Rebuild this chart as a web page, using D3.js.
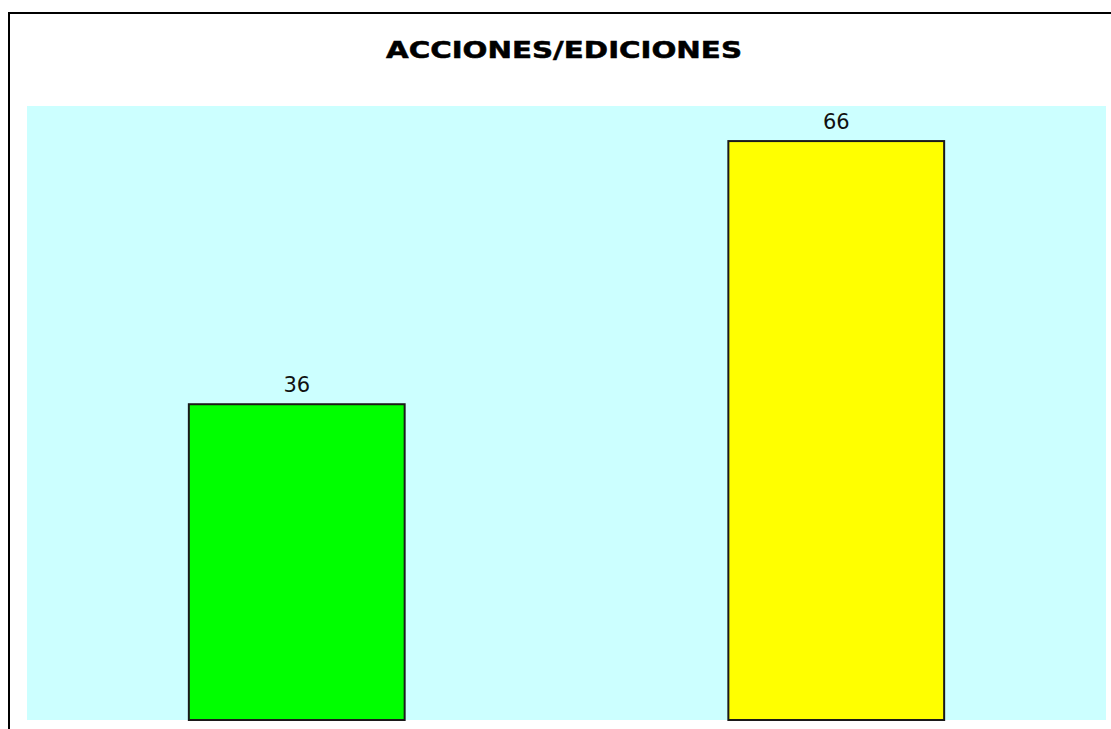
<!DOCTYPE html>
<html>
<head>
<meta charset="utf-8">
<script src="https://cdn.jsdelivr.net/npm/d3@7"></script>
<style>
html,body{margin:0;padding:0;background:#fff;}
svg{display:block;}
</style>
</head>
<body>
<svg id="chart" width="1111" height="729"></svg>
<script>
const title = "ACCIONES/EDICIONES";
const categories = ["Acciones", "Ediciones"];
const values = [36, 66];
const barColors = ["#00ff00", "#ffff00"];
const yMax = 70;

const svg = d3.select("#chart");
const plot = {left: 27, top: 106, right: 1106, bottom: 720};

// outer frame
svg.append("rect")
  .attr("x", 9).attr("y", 13)
  .attr("width", 1200).attr("height", 800)
  .attr("fill", "none").attr("stroke", "#000").attr("stroke-width", 2);

// title
svg.append("text")
  .attr("x", 386).attr("y", 58)
  .attr("font-family", "'DejaVu Sans', Verdana, sans-serif")
  .attr("font-weight", "bold")
  .attr("font-size", 22.5)
  .attr("textLength", 356)
  .attr("lengthAdjust", "spacingAndGlyphs")
  .attr("fill", "#000")
  .attr("stroke", "#000")
  .attr("stroke-width", 0.5)
  .text(title);

// plot background
svg.append("rect")
  .attr("x", plot.left).attr("y", plot.top)
  .attr("width", plot.right - plot.left).attr("height", plot.bottom - plot.top)
  .attr("fill", "#ccffff");

const x = d3.scaleBand().domain(categories)
  .range([plot.left, plot.right]).paddingInner(0.6).paddingOuter(0.3);
const y = d3.scaleLinear().domain([0, yMax]).range([plot.bottom, plot.top]);

const data = categories.map((c, i) => ({c, v: values[i], col: barColors[i]}));

svg.selectAll("rect.bar").data(data).enter().append("rect")
  .attr("class", "bar")
  .attr("x", d => x(d.c))
  .attr("y", d => y(d.v))
  .attr("width", x.bandwidth())
  .attr("height", d => y(0) - y(d.v))
  .attr("fill", d => d.col)
  .attr("stroke", "#1a1a1a")
  .attr("stroke-width", 2);

svg.selectAll("text.lbl").data(data).enter().append("text")
  .attr("class", "lbl")
  .attr("x", d => x(d.c) + x.bandwidth() / 2)
  .attr("y", d => y(d.v) - 12)
  .attr("text-anchor", "middle")
  .attr("font-family", "'DejaVu Sans', Verdana, sans-serif")
  .attr("font-size", 21)
  .attr("fill", "#111")
  .text(d => d.v);
</script>
</body>
</html>
